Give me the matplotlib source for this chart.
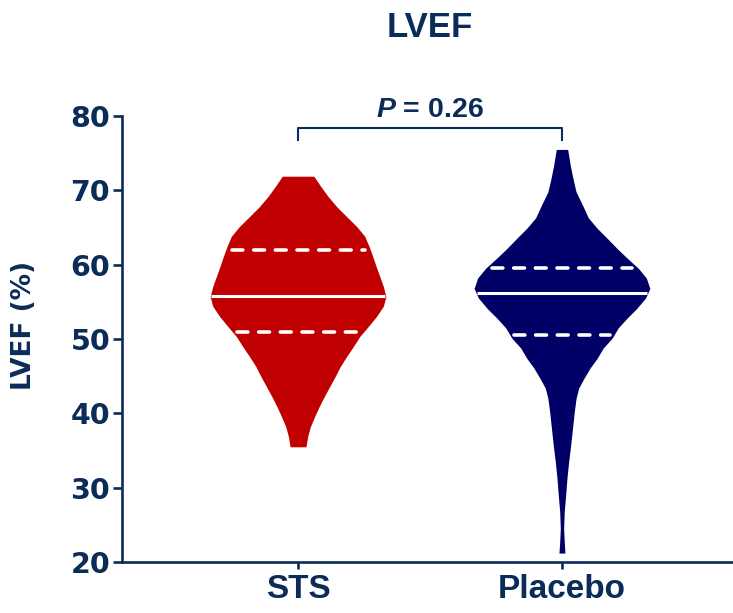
import numpy as np
import matplotlib
matplotlib.use("Agg")
import matplotlib.pyplot as plt

# groups
groups = ["STS", "Placebo"]
colors = ["#C00000", "#000066"]

# violin outlines: LVEF value and relative half-width
sts_y = [71.9, 70.5, 69.2, 67.8, 66.5, 65.1, 63.8, 62.4, 61.1, 59.7, 58.4,
         57.1, 55.7, 54.4, 53.0, 51.7, 50.3, 49.0, 47.6, 46.3, 44.9, 43.6,
         42.3, 40.9, 39.6, 38.2, 36.9, 35.5]
sts_w = [0.18, 0.26, 0.34, 0.44, 0.55, 0.67, 0.76, 0.81, 0.85, 0.89, 0.93,
         0.97, 1.00, 0.97, 0.89, 0.80, 0.70, 0.63, 0.55, 0.48, 0.42, 0.36,
         0.30, 0.24, 0.19, 0.14, 0.11, 0.09]

pla_y = [75.5, 73.4, 71.6, 69.8, 68.1, 66.3, 64.9, 63.6, 62.2, 60.9, 59.5,
         58.2, 56.8, 55.5, 54.1, 52.8, 51.5, 50.1, 48.8, 47.4, 46.1, 44.7,
         43.4, 42.0, 40.2, 38.0, 35.8, 33.5, 31.3, 29.0, 26.8, 24.5, 22.7, 21.2]
pla_w = [0.065, 0.094, 0.125, 0.16, 0.23, 0.30, 0.40, 0.51, 0.625, 0.74, 0.87,
         0.96, 1.00, 0.95, 0.85, 0.74, 0.64, 0.57, 0.47, 0.40, 0.32, 0.25,
         0.19, 0.16, 0.14, 0.12, 0.10, 0.076, 0.057, 0.042, 0.026, 0.019, 0.026, 0.034]

# median and quartiles
medians = [55.8, 56.2]
q1 = [51.0, 50.6]
q3 = [62.0, 59.5]

p_text = "0.26"

navy = "#0B2B59"
plt.rcParams["mathtext.fontset"] = "custom"
plt.rcParams["mathtext.it"] = "Liberation Sans:italic:bold"
plt.rcParams["mathtext.rm"] = "Liberation Sans:bold"

fig = plt.figure(figsize=(7.33, 6.13), dpi=100)
ax = fig.add_axes([122 / 733, 51 / 613, 611 / 733, 446 / 613])

half_max = 0.333
profiles = [(sts_y, sts_w), (pla_y, pla_w)]
for i, (py, pw) in enumerate(profiles):
    x0 = i + 1
    py = np.array(py)
    hw = np.array(pw) * half_max
    ax.fill_betweenx(py, x0 - hw, x0 + hw, color=colors[i], lw=0, zorder=2)
    # median and quartile lines run across the violin
    order = np.argsort(py)
    for val, ls, shrink in [(medians[i], "-", 0.99), (q1[i], (0, (3, 3)), 0.92),
                            (q3[i], (0, (3, 3)), 0.92)]:
        w = np.interp(val, py[order], hw[order]) * shrink
        ax.plot([x0 - w, x0 + w], [val, val], color="white", lw=2.2 if ls == "-" else 2.6,
                ls=ls, dash_capstyle="round", solid_capstyle="butt", zorder=3)

# significance bracket
ax.plot([1, 1, 2, 2], [76.8, 78.4, 78.4, 76.8], color=navy, lw=1.5,
        clip_on=False, zorder=4)
ax.text(1.5, 79.9, r"$\it{P}$ = " + p_text, ha="center", va="baseline",
        fontsize=20.5, fontweight="bold", color=navy,
        family="Liberation Sans", clip_on=False)

ax.set_xlim(0.333, 2.648)
ax.set_ylim(20, 80)
ax.set_yticks(range(20, 81, 10))
ax.set_xticks([1, 2])
ax.set_xticklabels(groups, fontsize=24, fontweight="bold", family="Liberation Sans",
                   color=navy)
for lab in ax.get_yticklabels():
    lab.set_fontsize(20.5)
    lab.set_fontweight("bold")
    lab.set_family("DejaVu Sans")
    lab.set_color(navy)

for s in ["top", "right"]:
    ax.spines[s].set_visible(False)
for s in ["left", "bottom"]:
    ax.spines[s].set_color(navy)
    ax.spines[s].set_linewidth(1.9)
ax.tick_params(axis="y", length=6.5, width=1.9, color=navy, pad=2)
ax.tick_params(axis="x", length=5, width=1.9, color=navy, pad=4)

fig.text(24 / 733, 1 - 325 / 613, "LVEF (%)", rotation=90, ha="center", va="center",
         fontsize=19, fontweight="bold", family="DejaVu Sans", color=navy)
fig.text(430 / 733, 1 - 37 / 613, "LVEF", ha="center", va="baseline",
         fontsize=25, fontweight="bold", family="Liberation Sans", color=navy)

fig.savefig("out.png", dpi=100)
